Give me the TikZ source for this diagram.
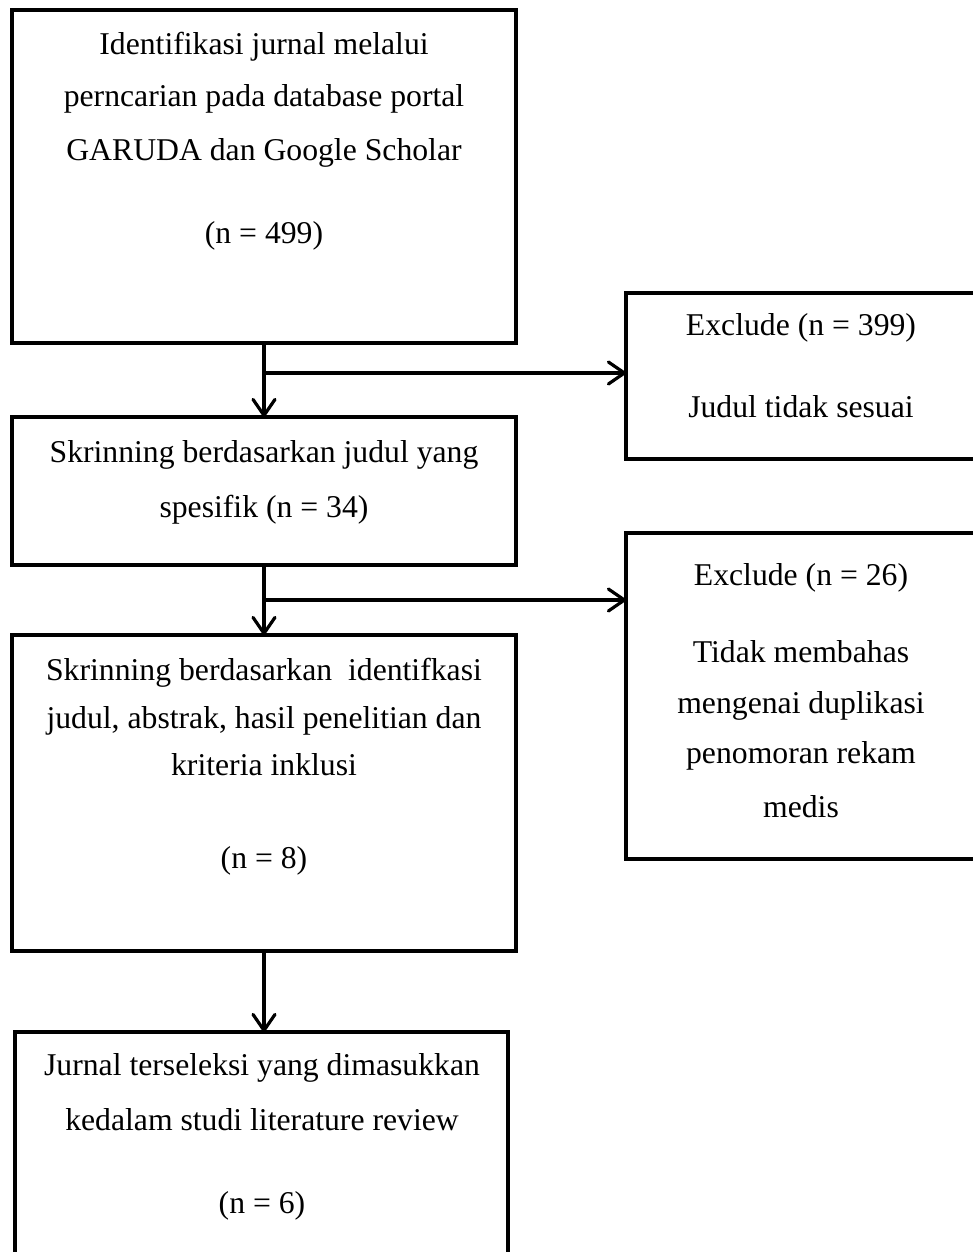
\documentclass[tikz,border=0pt]{standalone}
\usepackage{fontspec}
\setmainfont{Liberation Serif}
\usetikzlibrary{arrows.meta}
\begin{document}
\begin{tikzpicture}[x=0.5pt,y=-0.5pt,
  box/.style={draw,line width=1.9pt,rectangle,inner sep=0pt,outer sep=0pt,anchor=north west},
  txt/.style={anchor=base,inner sep=0pt,font=\fontsize{15.85}{19}\selectfont},
  conn/.style={line width=1.6pt,-{Straight Barb[length=8pt,width=11pt,line cap=round,line join=round]}}]
\useasboundingbox (0,0) rectangle (973,1252);
\clip (0,0) rectangle (973,1252);
% boxes
\node[box,minimum width=252pt,minimum height=166.5pt] (b1) at (12,10) {};
\node[box,minimum width=252pt,minimum height=74pt] (b2) at (12,417) {};
\node[box,minimum width=252pt,minimum height=158pt] (b3) at (12,635) {};
\node[box,minimum width=246.5pt,minimum height=130pt] (b4) at (15,1032) {};
\node[box,minimum width=175pt,minimum height=83pt] (r1) at (626,293) {};
\node[box,minimum width=175pt,minimum height=163pt] (r2) at (626,533) {};
% texts
\node[txt] (t1a) at (264,55) {Identifikasi jurnal melalui};
\node[txt] (t1b) at (264,107) {perncarian pada database portal};
\node[txt] (t1c) at (264,160) {GARUDA dan Google Scholar};
\node[txt] (t1d) at (264,243) {(n = 499)};
\node[txt] (t2a) at (264,462) {Skrinning berdasarkan judul yang};
\node[txt] (t2b) at (264,517) {spesifik (n = 34)};
\node[txt] (t3a) at (264,680) {Skrinning berdasarkan\ \ identifkasi};
\node[txt] (t3b) at (264,728) {judul, abstrak, hasil penelitian dan};
\node[txt] (t3c) at (264,775) {kriteria inklusi};
\node[txt] (t3d) at (264,868) {(n = 8)};
\node[txt] (t4a) at (262,1075) {Jurnal terseleksi yang dimasukkan};
\node[txt] (t4b) at (262,1130) {kedalam studi literature review};
\node[txt] (t4c) at (262,1213) {(n = 6)};
\node[txt] (r1a) at (801,335) {Exclude (n = 399)};
\node[txt] (r1b) at (801,417) {Judul tidak sesuai};
\node[txt] (r2a) at (801,585) {Exclude (n = 26)};
\node[txt] (r2b) at (801,662) {Tidak membahas};
\node[txt] (r2c) at (801,713) {mengenai duplikasi};
\node[txt] (r2d) at (801,763) {penomoran rekam};
\node[txt] (r2e) at (801,817) {medis};
% connectors
\coordinate (j1) at (264,373);
\coordinate (j2) at (264,600);
\draw[conn] (b1.south) -- (b2.north);
\draw[conn] (j1) -- (j1 -| r1.west);
\draw[conn] (b2.south) -- (b3.north);
\draw[conn] (j2) -- (j2 -| r2.west);
\draw[conn] (b3.south) -- (b3.south |- b4.north);
\end{tikzpicture}
\end{document}
